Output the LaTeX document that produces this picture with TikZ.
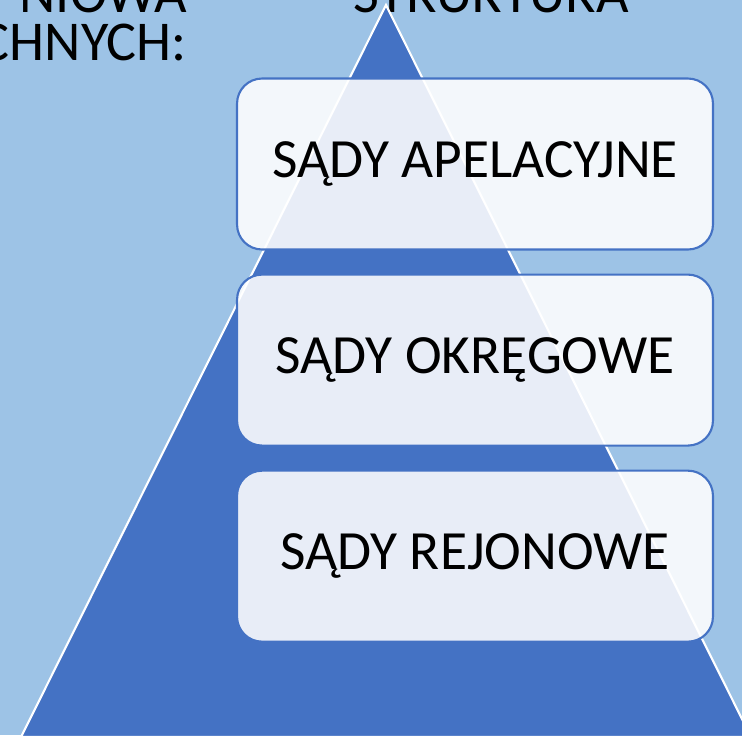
\documentclass[tikz,border=0pt]{standalone}
\usepackage{fontspec}
\setmainfont{Carlito}
\usetikzlibrary{positioning}

\definecolor{bgblue}{HTML}{9DC3E6}
\definecolor{pyrblue}{HTML}{4472C4}

\tikzset{
  level/.style={draw=pyrblue, line width=1.2pt, rounded corners=0.5cm,
    fill=white, fill opacity=0.88, text opacity=1,
    minimum width=9.52cm, minimum height=3.42cm,
    font=\fontsize{31.5}{38}\selectfont},
  title/.style={font=\fontsize{32}{38}\selectfont, inner sep=0pt,
    text height=0.62em, text depth=0pt}
}

\begin{document}
\begin{tikzpicture}[x=0.02cm, y=-0.02cm]

  \useasboundingbox (0, 0) rectangle (742, 735);
  \clip (0, 0) rectangle (742, 735);
  \fill[bgblue] (0, 0) rectangle (742, 735);

  % title, cut off at the top
  \node[title, anchor=base east] (t1) at (187, 12) {NIOWA};
  \node[title, anchor=base east] (t2) at (187, 60) {CHNYCH:};
  \node[title, anchor=base west] (t3) at (353, 12) {STRUKTURA};

  % pyramid
  \draw[fill=pyrblue, draw=white, line width=1.2pt]
  (386, 5) -- (21, 737) -- (751, 737) -- cycle;

  \node[level] (apel) at (475, 164) {SĄDY APELACYJNE};
  \node[level, below=0.46cm of apel] (okreg) {SĄDY OKRĘGOWE};
  \node[level, below=0.46cm of okreg] (rejon) {SĄDY REJONOWE};
\end{tikzpicture}
\end{document}
